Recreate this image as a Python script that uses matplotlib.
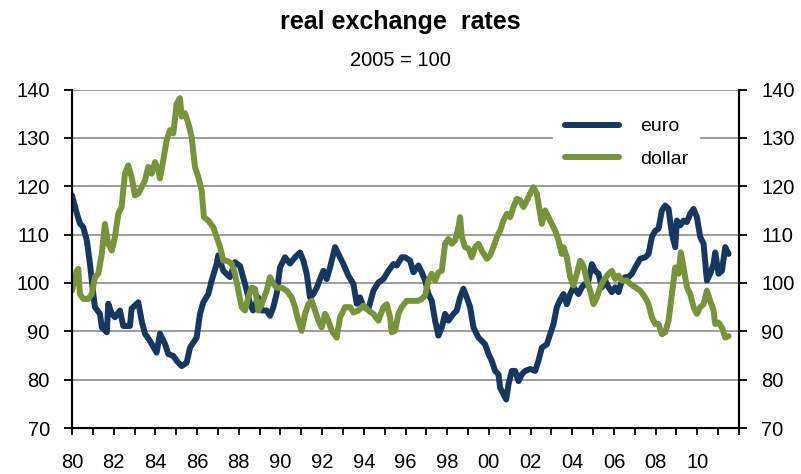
import numpy as np
import matplotlib
matplotlib.use("Agg")
import matplotlib.pyplot as plt
from matplotlib.ticker import MultipleLocator, FixedLocator

plt.rcParams["font.family"] = ["Liberation Sans", "DejaVu Sans"]

# years since 1980 / index value (2005 = 100)
euro_t = [0.00, 0.23, 0.38, 0.54, 0.71, 0.86, 1.02, 1.10, 1.34, 1.43, 1.67, 1.74,
          1.91, 2.06, 2.30, 2.46, 2.78, 2.86, 3.18, 3.34, 3.50, 3.74, 4.06, 4.22,
          4.46, 4.62, 4.86, 5.02, 5.26, 5.50, 5.66, 5.98, 6.14, 6.30, 6.54, 6.70,
          6.94, 7.02, 7.26, 7.58, 7.82, 8.06, 8.30, 8.54, 8.69, 8.93, 9.10, 9.34,
          9.50, 9.66, 9.82, 9.98, 10.22, 10.46, 10.70, 10.94, 11.10, 11.26, 11.42,
          11.58, 11.74, 11.90, 12.06, 12.22, 12.38, 12.62, 12.78, 13.02, 13.26,
          13.50, 13.66, 13.82, 13.98, 14.22, 14.46, 14.70, 14.94, 15.18, 15.42,
          15.58, 15.82, 15.98, 16.22, 16.38, 16.62, 16.78, 16.94, 17.10, 17.26,
          17.42, 17.58, 17.74, 17.90, 18.06, 18.30, 18.46, 18.62, 18.78, 18.94,
          19.10, 19.26, 19.50, 19.66, 19.82, 19.98, 20.14, 20.30, 20.46, 20.54,
          20.70, 20.83, 20.94, 21.10, 21.26, 21.42, 21.58, 21.74, 21.98, 22.22,
          22.38, 22.54, 22.78, 22.94, 23.10, 23.26, 23.42, 23.58, 23.74, 23.90,
          24.06, 24.30, 24.46, 24.62, 24.78, 24.94, 25.10, 25.26, 25.42, 25.58,
          25.74, 25.90, 26.06, 26.22, 26.38, 26.54, 26.70, 26.86, 27.02, 27.26,
          27.50, 27.66, 27.82, 27.98, 28.14, 28.30, 28.46, 28.62, 28.78, 28.94,
          29.02, 29.18, 29.34, 29.50, 29.66, 29.82, 29.98, 30.14, 30.30, 30.46,
          30.62, 30.78, 30.86, 31.02, 31.18, 31.34, 31.50]
euro = [118.1, 114.4, 112.3, 111.5, 108.8, 104.0, 97.8, 95.0, 93.6, 90.8, 89.8, 95.7,
        93.6, 92.9, 94.3, 91.1, 91.1, 94.7, 96.0, 92.2, 89.5, 88.0, 85.6, 89.5,
        87.4, 85.3, 84.9, 83.9, 82.8, 83.5, 86.6, 88.7, 93.6, 96.0, 97.7, 100.5,
        103.9, 105.7, 102.5, 101.2, 104.3, 103.5, 99.8, 95.7, 94.3, 97.0, 94.3, 94.3,
        93.2, 95.0, 97.8, 103.2, 105.3, 104.0, 105.3, 106.3, 104.6, 101.9, 97.0,
        97.7, 99.0, 100.8, 102.5, 100.8, 103.2, 107.4, 106.0, 103.9, 101.5,
        99.8, 95.7, 97.0, 95.0, 94.6, 98.4, 100.1, 100.8, 102.5, 103.9,
        103.6, 105.3, 105.3, 104.6, 102.2, 103.6, 102.2, 100.5, 97.7, 96.3,
        92.2, 89.1, 90.8, 93.6, 92.2, 93.6, 94.3, 97.0, 98.8, 97.0,
        95.0, 90.8, 88.7, 88.0, 87.3, 85.3, 83.9, 81.8, 81.1, 78.3,
        77.0, 75.9, 79.0, 81.8, 81.8, 79.7, 81.1, 81.8, 82.2, 81.8,
        83.9, 86.6, 87.3, 89.4, 91.5, 95.0, 96.5, 97.7, 95.6, 97.7,
        99.1, 97.7, 99.1, 99.8, 100.5, 103.9, 102.5, 101.9, 99.1, 100.5,
        99.1, 98.1, 99.1, 98.1, 100.5, 101.2, 101.2, 101.9, 103.2, 105.0,
        105.3, 106.0, 109.5, 110.8, 111.2, 115.0, 116.0, 115.3, 110.2, 107.4,
        112.9, 111.9, 112.9, 112.6, 114.3, 115.3, 113.6, 109.5, 108.1, 100.5,
        101.9, 103.9, 106.3, 101.9, 102.5, 107.4, 106.0]

dollar_t = [0.00, 0.23, 0.30, 0.38, 0.54, 0.78, 0.95, 1.10, 1.26, 1.43, 1.58, 1.74,
            1.91, 2.06, 2.22, 2.38, 2.54, 2.70, 2.86, 3.02, 3.18, 3.34, 3.50, 3.66,
            3.82, 3.98, 4.14, 4.22, 4.38, 4.54, 4.70, 4.86, 5.02, 5.18, 5.26, 5.42,
            5.58, 5.74, 5.90, 6.06, 6.22, 6.33, 6.54, 6.78, 6.94, 7.10, 7.26, 7.42,
            7.66, 7.82, 7.98, 8.14, 8.30, 8.46, 8.62, 8.78, 8.94, 9.10, 9.34, 9.50,
            9.66, 9.82, 10.06, 10.30, 10.54, 10.70, 10.86, 11.02, 11.18, 11.34,
            11.50, 11.66, 11.82, 11.98, 12.14, 12.30, 12.46, 12.70, 12.86, 13.10,
            13.34, 13.50, 13.74, 13.98, 14.22, 14.46, 14.70, 14.94, 15.10, 15.26,
            15.34, 15.50, 15.66, 15.82, 16.06, 16.38, 16.62, 16.78, 16.94, 17.10,
            17.26, 17.42, 17.58, 17.74, 17.90, 18.06, 18.22, 18.38, 18.54, 18.62,
            18.70, 18.86, 19.02, 19.18, 19.34, 19.50, 19.66, 19.90, 20.06, 20.22,
            20.38, 20.54, 20.70, 20.86, 21.02, 21.18, 21.34, 21.50, 21.66, 21.82,
            21.98, 22.14, 22.30, 22.46, 22.54, 22.70, 22.86, 23.02, 23.18, 23.34,
            23.50, 23.58, 23.74, 23.90, 24.06, 24.22, 24.38, 24.54, 24.70, 24.86,
            25.02, 25.18, 25.34, 25.50, 25.74, 25.90, 26.06, 26.22, 26.38, 26.62,
            26.78, 27.02, 27.26, 27.50, 27.66, 27.82, 27.98, 28.14, 28.30, 28.46,
            28.62, 28.78, 28.94, 29.10, 29.21, 29.34, 29.50, 29.66, 29.82, 29.98,
            30.14, 30.30, 30.46, 30.62, 30.78, 30.86, 31.02, 31.18, 31.34, 31.50]
dollar = [98.4, 102.5, 102.9, 97.7, 96.7, 96.7, 97.7, 101.2, 101.9, 106.0, 112.2, 108.1,
          106.7, 109.5, 114.3, 115.7, 122.6, 124.3, 121.9, 118.1, 118.5, 119.8, 121.2, 124.0,
          122.6, 125.0, 123.3, 121.6, 125.4, 129.5, 131.6, 130.9, 137.1, 138.2, 134.4, 135.1,
          133.0, 130.2, 124.0, 121.9, 119.1, 113.6, 112.9, 111.5, 109.5, 107.5, 104.6, 104.6,
          104.0, 101.9, 98.4, 95.0, 94.3, 97.0, 99.0, 98.8, 94.3, 95.6, 98.4, 101.2,
          99.8, 99.0, 99.0, 98.4, 97.0, 95.0, 92.2, 90.1, 93.6, 95.6,
          96.3, 94.3, 92.2, 90.8, 93.6, 92.2, 90.1, 88.7, 92.9, 95.0,
          95.0, 93.9, 94.3, 95.3, 94.3, 93.6, 92.2, 95.0, 95.6, 92.9,
          89.8, 90.1, 93.6, 95.0, 96.3, 96.3, 96.3, 96.7, 97.4, 100.5,
          101.9, 100.5, 102.2, 102.5, 108.1, 109.1, 108.1, 108.8, 111.5, 113.6,
          109.5, 107.4, 107.1, 105.3, 107.4, 108.1, 106.7, 105.0, 105.7, 107.4,
          109.5, 110.8, 112.9, 114.3, 113.6, 115.7, 117.4, 117.1, 115.7, 117.1,
          118.5, 119.8, 118.5, 114.3, 112.2, 115.0, 113.6, 112.2, 110.8, 108.8,
          106.0, 107.4, 105.3, 101.2, 99.5, 101.9, 104.6, 103.5, 100.5, 98.4,
          95.6, 97.0, 99.1, 100.5, 101.9, 102.5, 100.8, 101.5, 100.5, 100.5,
          99.8, 99.1, 98.4, 97.0, 95.6, 92.9, 91.5, 91.5, 89.4, 89.8,
          92.2, 97.7, 103.2, 101.9, 106.3, 103.2, 99.1, 97.7, 95.0, 93.6,
          95.0, 95.6, 98.4, 96.3, 94.3, 91.5, 91.8, 90.8, 88.7, 89.0]

start_year = 1980
end_year = 2012
label_years = list(range(1980, 2011, 2))

navy = "#17375E"
olive = "#77933C"

fig = plt.figure(figsize=(8.01, 4.74), dpi=100)
ax = fig.add_axes([72 / 801, 1 - 428 / 474, 667 / 801, 338.5 / 474])

ax.plot(start_year + np.array(euro_t), euro, color=navy, lw=4.3,
        solid_capstyle="round", solid_joinstyle="round", label="euro", zorder=3)
ax.plot(start_year + np.array(dollar_t), dollar, color=olive, lw=4.3,
        solid_capstyle="round", solid_joinstyle="round", label="dollar", zorder=3)

ax.set_xlim(start_year, end_year)
ax.set_ylim(70, 140)
ax.yaxis.set_major_locator(MultipleLocator(10))
ax.grid(axis="y", color="#8c8c8c", lw=1.2, zorder=0)
ax.set_axisbelow(True)

ax.xaxis.set_major_locator(FixedLocator(label_years))
ax.xaxis.set_minor_locator(MultipleLocator(1))
ax.set_xticklabels([f"{y % 100:02d}" for y in label_years])

ax.spines["top"].set_visible(False)
for side in ["left", "bottom", "right"]:
    ax.spines[side].set_linewidth(1.5)
    ax.spines[side].set_color("black")

ax.tick_params(axis="x", which="both", direction="out", length=5, width=1.3,
               labelsize=14.5, pad=13)
ax.tick_params(axis="y", direction="out", length=6, width=1.3, labelsize=14.5, pad=10)

ax2 = ax.twinx()
ax2.set_ylim(70, 140)
ax2.yaxis.set_major_locator(MultipleLocator(10))
ax2.spines["top"].set_visible(False)
ax2.spines["right"].set_linewidth(1.5)
ax2.tick_params(axis="y", direction="out", length=6, width=1.3, labelsize=14.5, pad=10)

leg = ax2.legend(*ax.get_legend_handles_labels(), loc="upper left",
                 bbox_to_anchor=(0.721, 0.951), borderaxespad=0, frameon=True,
                 fontsize=14, handlelength=2.8, handletextpad=1.1,
                 labelspacing=0.75, borderpad=0.6, fancybox=False)
leg.get_frame().set_facecolor("white")
leg.get_frame().set_edgecolor("none")
leg.get_frame().set_alpha(1)

fig.text(400 / 801, 1 - 22 / 474, "real exchange  rates", ha="center", va="center",
         fontsize=18, fontweight="bold")
fig.text(400 / 801, 1 - 60 / 474, "2005 = 100", ha="center", va="center", fontsize=14.5)

fig.savefig("out.png", dpi=100)
